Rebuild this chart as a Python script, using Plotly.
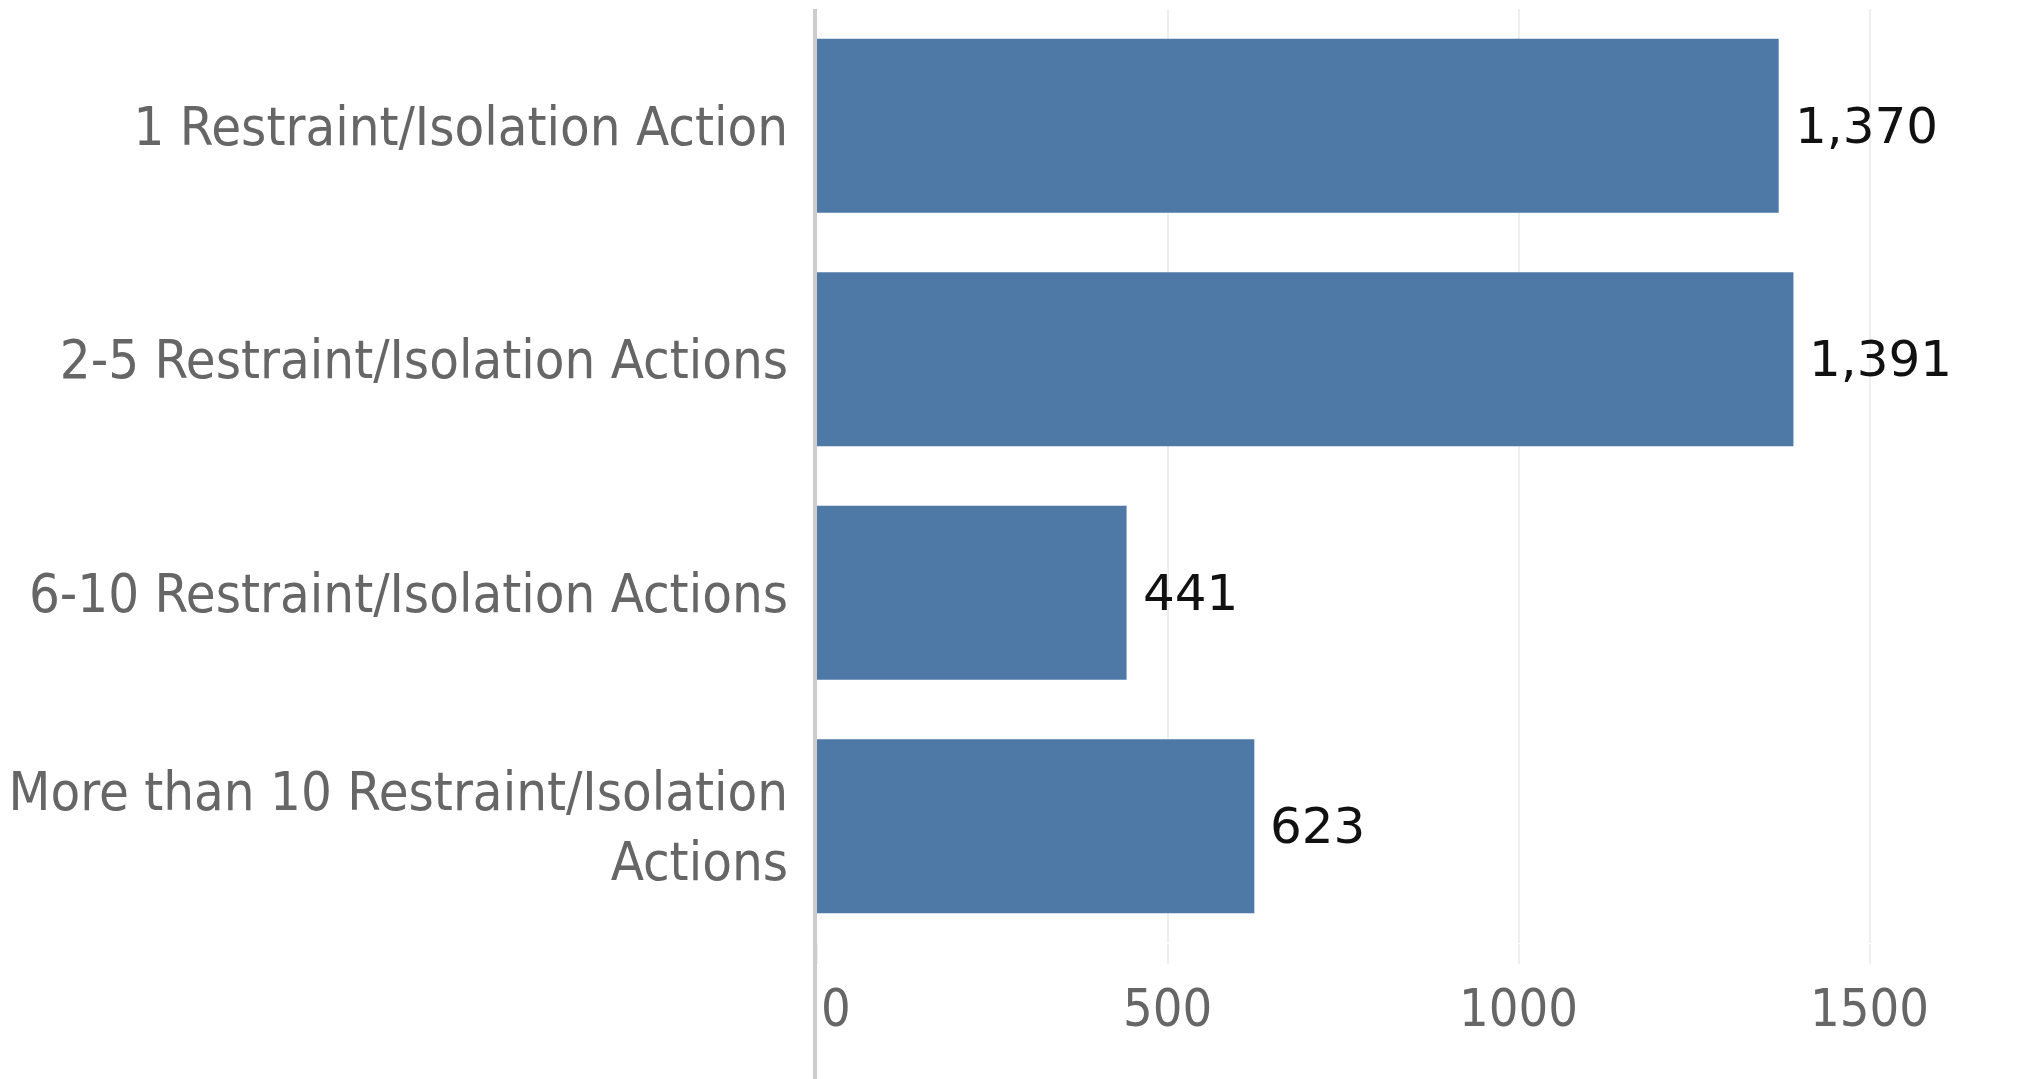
import plotly.graph_objects as go

categories = [
    "1 Restraint/Isolation Action",
    "2-5 Restraint/Isolation Actions",
    "6-10 Restraint/Isolation Actions",
    "More than 10 Restraint/Isolation<br>Actions",
]
values = [1370, 1391, 441, 623]
value_labels = ["1,370", "1,391", "441", "623"]
tick_vals = [0, 500, 1000, 1500]
tick_text = ["0", "500", "1000", "1500"]

BLUE = "#4e79a7"
GRAY = "#666666"
LABEL_FONT = "DejaVu Sans Condensed, sans-serif"
VALUE_FONT = "DejaVu Sans, sans-serif"

fig = go.Figure()
fig.add_trace(go.Bar(
    y=categories, x=values, orientation="h",
    marker=dict(color=BLUE, line=dict(width=0)),
    hoverinfo="skip",
))

# value labels
for c, v, t in zip(categories, values, value_labels):
    fig.add_annotation(x=v, y=c, text=t, showarrow=False, xanchor="left",
                       xshift=14, font=dict(family=VALUE_FONT, size=50, color="#111111"))

# x tick labels
for v, t in zip(tick_vals, tick_text):
    fig.add_annotation(x=v, y=0, yref="paper", text=t, showarrow=False,
                       xanchor="left" if v == 0 else "center", yanchor="middle",
                       xshift=2 if v == 0 else 0, yshift=-65,
                       font=dict(family=LABEL_FONT, size=52, color=GRAY))

# axis line (just left of the bars)
fig.add_shape(type="rect", xref="paper", yref="paper", xsizemode="pixel", xanchor=0,
              x0=-4, x1=0, y0=-0.2, y1=1,
              fillcolor="#cccccc", line=dict(width=0), layer="above")

fig.update_layout(
    width=2022, height=1079,
    margin=dict(l=809, r=0, t=1, b=144),
    paper_bgcolor="white", plot_bgcolor="white",
    bargap=0.254,
    showlegend=False,
    xaxis=dict(range=[0, 1728], tickvals=tick_vals, showticklabels=False,
               showgrid=True, gridcolor="#efefef", gridwidth=2,
               zeroline=False, showline=False,
               ticks="outside", ticklen=20, tickcolor="#efefef", tickwidth=2),
    yaxis=dict(autorange="reversed", showgrid=False, zeroline=False, showline=False,
               ticks="", ticklabelstandoff=28,
               tickfont=dict(family=LABEL_FONT, size=54, color=GRAY)),
)

fig.write_html("out.html")
